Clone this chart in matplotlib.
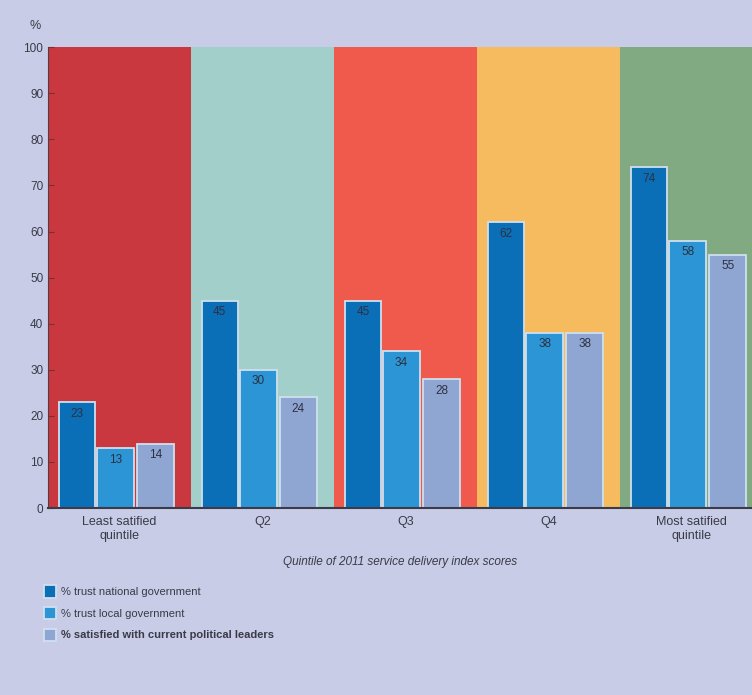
import matplotlib
matplotlib.use("Agg")
import matplotlib.pyplot as plt
import numpy as np

# data
quintiles = ["Least satified\nquintile", "Q2", "Q3", "Q4", "Most satified\nquintile"]
trust_national = [23, 45, 45, 62, 74]
trust_local = [13, 30, 34, 38, 58]
satisfied_leaders = [14, 24, 28, 38, 55]
series_names = ["% trust national government",
                "% trust local government",
                "% satisfied with current political leaders"]

bg = "#c8cce6"
panel_colors = ["#c8383e", "#a2cfca", "#f05a4c", "#f6bb5e", "#82aa82"]
bar_colors = ["#0b6fb8", "#2b95d5", "#8fa6d3"]
text_col = "#3a3a48"

plt.rcParams['font.family'] = ['Liberation Sans Narrow', 'Liberation Sans', 'DejaVu Sans']

fig = plt.figure(figsize=(7.52, 6.95), dpi=100, facecolor=bg)
ax = fig.add_axes([0.064, 0.269, 0.936, 0.663])
ax.set_facecolor(bg)

x = np.arange(len(quintiles))
# background panels, one per quintile
for i, c in enumerate(panel_colors):
    ax.axvspan(i - 0.5, i + 0.5, ymin=0, ymax=1, color=c, zorder=0, lw=0)

width = 0.255
offsets = [-0.30, -0.03, 0.25]
for s, vals in enumerate([trust_national, trust_local, satisfied_leaders]):
    bars = ax.bar(x + offsets[s], vals, width, color=bar_colors[s],
                  edgecolor="#cfe0ee", linewidth=1.3, zorder=2,
                  label=series_names[s])
    for b, v in zip(bars, vals):
        ax.text(b.get_x() + b.get_width() / 2, v - 1.2, str(v),
                ha="center", va="top", fontsize=8.5, color="#2e3040", zorder=3)

ax.set_xlim(-0.5, 4.42)
ax.set_ylim(0, 100)
ax.set_yticks(range(0, 101, 10))
ax.set_xticks(x)
ax.set_xticklabels(quintiles, fontsize=9, color=text_col)
ax.tick_params(axis="y", direction="in", length=4, labelsize=8.5,
               labelcolor=text_col, color="#7a3030")
ax.tick_params(axis="x", length=0, pad=6)
for side in ["top", "right"]:
    ax.spines[side].set_visible(False)
ax.spines["left"].set_color("#5a3a40")
ax.spines["bottom"].set_color("#3a3a48")
ax.spines["bottom"].set_linewidth(1.5)

ax.set_xlabel("Quintile of 2011 service delivery index scores", fontsize=8.5,
              style="italic", color=text_col, labelpad=10)
fig.text(0.047, 0.962, "%", fontsize=9, color=text_col, ha="center", va="center")

handles, labels = ax.get_legend_handles_labels()
leg = fig.legend(handles, labels, loc="upper left", bbox_to_anchor=(0.045, 0.172),
                 frameon=False, fontsize=8, handlelength=1.1, handleheight=1.3,
                 handletextpad=0.4, labelspacing=0.85, labelcolor=text_col)
leg.get_texts()[2].set_fontweight("bold")

plt.savefig("out.png", dpi=100, facecolor=bg)
